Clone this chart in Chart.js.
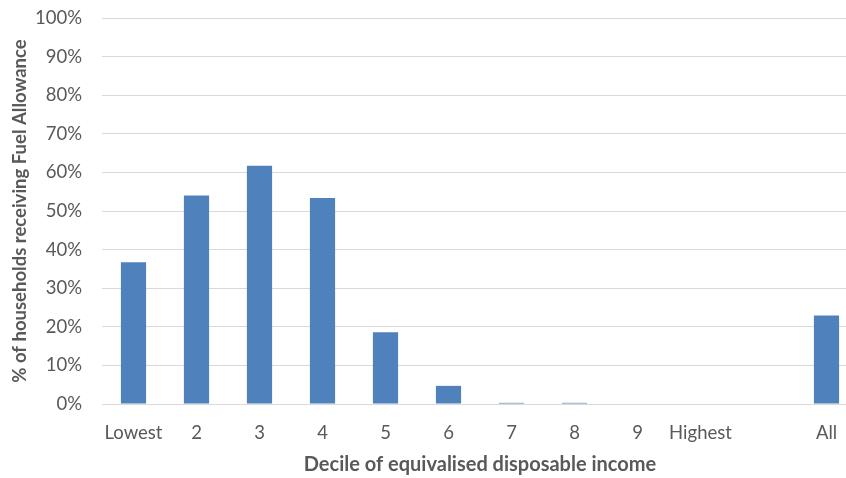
<!DOCTYPE html>
<html>
<head>
<meta charset="utf-8">
<script src="https://cdn.jsdelivr.net/npm/chart.js@4.4.1/dist/chart.umd.min.js"></script>
<style>
  html, body { margin: 0; padding: 0; background: #ffffff; overflow: hidden; }
  #wrap { width: 846px; height: 478px; overflow: hidden; position: relative; }
  canvas { display: block; }
</style>
</head>
<body>
<div id="wrap"><canvas id="chart" width="858" height="478" style="width:858px;height:478px"></canvas></div>
<script>
// Income deciles (plus an empty spacer slot before the overall figure)
const categories = ['Lowest', '2', '3', '4', '5', '6', '7', '8', '9', 'Highest', '', 'All'];
// Share of households receiving Fuel Allowance, %
const shareReceiving = [36.7, 54.0, 61.7, 53.4, 18.6, 4.7, 0.3, 0.3, 0, 0, null, 22.9];
const yTickMax = 100;
const yTickStep = 10;

const textColor = '#595959';
const fontFamily = 'Lato, "Open Sans", "Liberation Sans", sans-serif';

new Chart(document.getElementById('chart'), {
  type: 'bar',
  data: {
    labels: categories,
    datasets: [{
      data: shareReceiving,
      backgroundColor: '#4f81bd',
      borderWidth: 0,
      barPercentage: 1,
      categoryPercentage: 0.4
    }]
  },
  options: {
    responsive: false,
    animation: false,
    layout: { padding: { top: 18, left: 0, right: 0, bottom: 0 } },
    plugins: {
      legend: { display: false },
      tooltip: { enabled: false }
    },
    scales: {
      x: {
        grid: { display: false },
        border: { display: false },
        ticks: {
          color: textColor,
          font: { family: fontFamily, size: 18.5 },
          padding: 10,
          maxRotation: 0,
          autoSkip: false
        },
        title: {
          display: true,
          text: 'Decile of equivalised disposable income',
          color: textColor,
          font: { family: fontFamily, size: 20, weight: 'bold' },
          padding: { top: 0, bottom: 1 }
        },
        afterFit: (scale) => { scale.height = 74; }
      },
      y: {
        min: 0,
        max: yTickMax,
        grid: { color: '#d9d9d9', lineWidth: 1, drawTicks: false },
        border: { display: false },
        ticks: {
          stepSize: yTickStep,
          color: textColor,
          font: { family: fontFamily, size: 18.5 },
          padding: 20,
          callback: (v) => v + '%'
        },
        title: {
          display: true,
          text: '% of households receiving Fuel Allowance',
          color: textColor,
          font: { family: fontFamily, size: 18.5, weight: 'bold' },
          padding: { top: 9, bottom: 0 }
        },
        afterFit: (scale) => {
          scale.width = 102;
          scale.paddingTop = 0;
          scale.paddingBottom = 0;
        }
      }
    }
  }
});
</script>
</body>
</html>
